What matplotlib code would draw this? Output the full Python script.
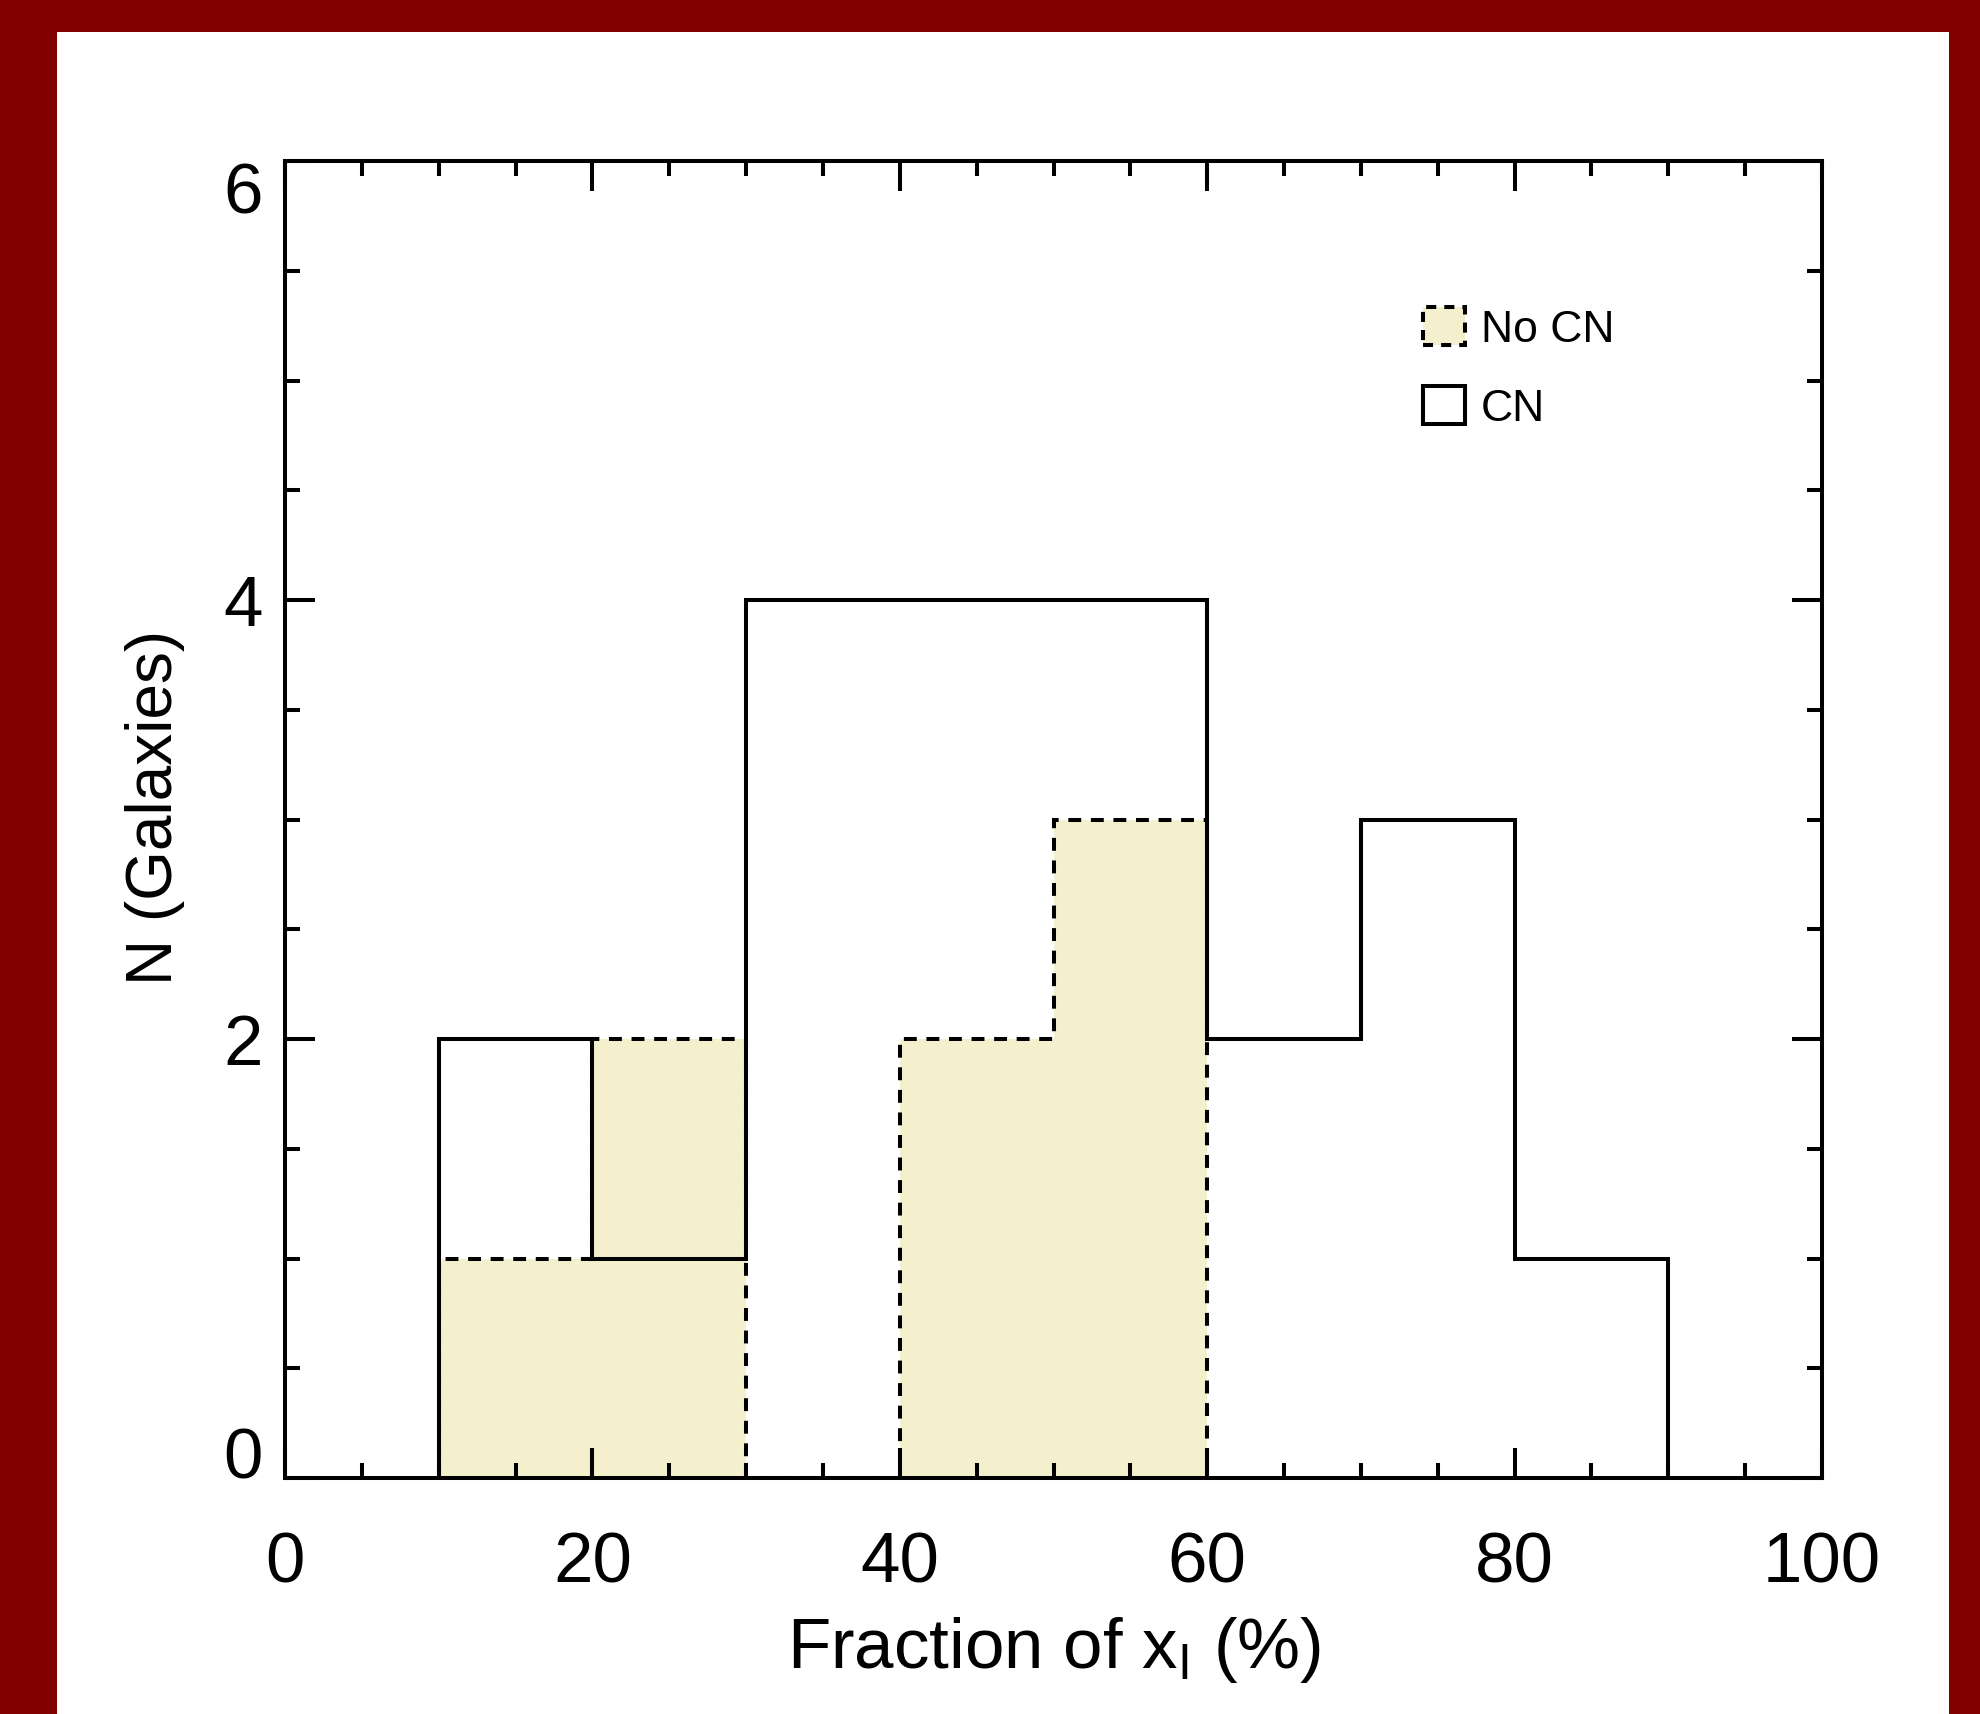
import numpy as np
import matplotlib
matplotlib.use("Agg")
import matplotlib.pyplot as plt
from matplotlib.patches import Rectangle, Patch
from matplotlib.ticker import MultipleLocator

plt.rcParams['font.family'] = ['Liberation Sans Narrow', 'Liberation Sans', 'DejaVu Sans']

# histogram data (bins of 10 %)
bin_edges = [10, 20, 30, 40, 50, 60, 70, 80, 90]
cn_counts = [2, 1, 4, 4, 4, 2, 3, 1]
nocn_edges = [10, 20, 30, 40, 50, 60]
nocn_counts = [1, 2, 0, 2, 3]

xlabel = "Fraction of x$_\\mathregular{I}$ (%)"
ylabel = "N (Galaxies)"
legend_labels = ["No CN", "CN"]

W, H = 1980, 1715
fig = plt.figure(figsize=(W / 100, H / 100), dpi=100, facecolor="#800000")
bg = Rectangle((57 / W, 0), (1949 - 57) / W, (H - 33) / H,
               transform=fig.transFigure, facecolor="white",
               edgecolor="none", zorder=-10)
fig.add_artist(bg)

ax = fig.add_axes([285 / W, 1 - 1479 / H, (1822 - 285) / W, (1479 - 162) / H])
ax.set_facecolor("white")

fill_col = "#F4F0CD"
lw = 2.9

ax.stairs(nocn_counts, nocn_edges, fill=True, color=fill_col, zorder=1)
ax.stairs(nocn_counts, nocn_edges, fill=False, edgecolor="black", lw=lw,
          linestyle=(0, (3.2, 2.4)), baseline=0, zorder=2)
ax.stairs(cn_counts, bin_edges, fill=False, edgecolor="black", lw=lw,
          baseline=0, zorder=3)

ax.set_xlim(0, 100)
ax.set_ylim(0, 6)
ax.xaxis.set_major_locator(MultipleLocator(20))
ax.xaxis.set_minor_locator(MultipleLocator(5))
ax.yaxis.set_major_locator(MultipleLocator(2))
ax.yaxis.set_minor_locator(MultipleLocator(0.5))

ax.tick_params(which="both", direction="in", top=True, right=True, width=lw,
               color="black")
ax.tick_params(which="major", length=21.5)
ax.tick_params(which="minor", length=11)
ax.tick_params(axis="x", which="major", labelsize=51, pad=38)
ax.tick_params(axis="y", which="major", labelsize=51, pad=16)
for s in ax.spines.values():
    s.set_linewidth(lw)

fig.canvas.draw()
ylabs = ax.get_yticklabels()
for t in ylabs:
    if t.get_text() == "6":
        t.set_va("top")
    elif t.get_text() == "0":
        t.set_va("baseline")

ax.set_xlabel(xlabel, fontsize=51)
ax.xaxis.set_label_coords(0.5, -0.103)
ax.set_ylabel(ylabel, fontsize=46)
ax.yaxis.set_label_coords(-0.065, 0.51)

handles = [Patch(facecolor=fill_col, edgecolor="black", lw=lw, linestyle=(0, (2.5, 2))),
           Patch(facecolor="white", edgecolor="black", lw=lw)]
ax.legend(handles, legend_labels, loc="upper left", bbox_to_anchor=(0.729, 0.903),
          frameon=False, fontsize=32, handlelength=0.95, handleheight=0.95,
          handletextpad=0.35, labelspacing=0.8, borderaxespad=0)

fig.savefig("out.png", dpi=100, facecolor=fig.get_facecolor())
